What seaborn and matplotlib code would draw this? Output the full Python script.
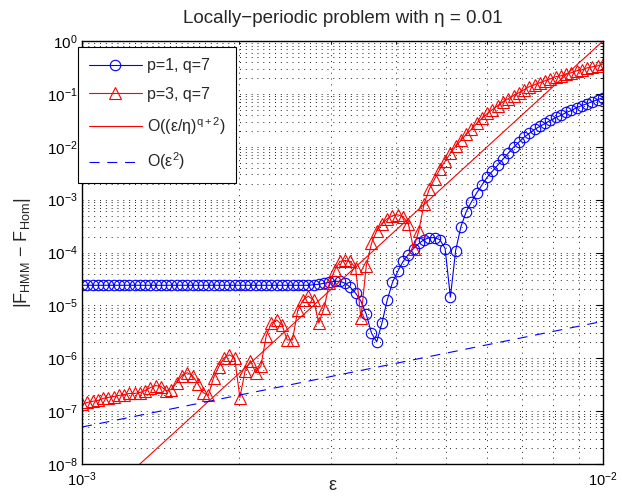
import numpy as np
import pandas as pd
import matplotlib
matplotlib.use("Agg")
import matplotlib.pyplot as plt
import matplotlib.ticker as mticker
import seaborn as sns

# sampling grid of epsilon (100 log-spaced samples between 1e-3 and 1e-2)
eps = np.geomspace(1e-3, 1e-2, 100)

# p=1, q=7 (blue circles)
err_p1 = [2.40e-5] * 43 + [
    2.40e-5, 2.45e-5, 2.51e-5, 2.62e-5, 2.73e-5, 2.85e-5, 2.85e-5,
    2.62e-5, 2.20e-5, 1.70e-5, 1.20e-5, 6.85e-6, 3.01e-6, 2.04e-6,
    4.65e-6, 1.26e-5, 2.73e-5, 4.40e-5, 6.77e-5, 9.16e-5, 1.19e-4,
    1.48e-4, 1.75e-4, 1.91e-4, 1.91e-4, 1.75e-4, 1.19e-4, 1.43e-5,
    1.09e-4, 3.08e-4, 5.89e-4, 9.08e-4, 1.34e-3, 1.89e-3, 2.67e-3,
    3.47e-3, 4.50e-3, 5.82e-3, 7.55e-3, 9.79e-3, 1.22e-2, 1.51e-2,
    1.79e-2, 2.13e-2, 2.43e-2, 2.76e-2, 3.15e-2, 3.58e-2, 3.91e-2,
    4.45e-2, 4.85e-2, 5.52e-2, 6.01e-2, 6.56e-2, 7.15e-2, 7.80e-2,
    8.51e-2]

# p=3, q=7 (red triangles)
err_p3 = [
    1.34e-7, 1.46e-7, 1.53e-7, 1.59e-7, 1.74e-7, 1.81e-7, 1.89e-7,
    1.98e-7, 2.06e-7, 2.16e-7, 2.16e-7, 2.25e-7, 2.45e-7, 2.79e-7,
    3.05e-7, 2.92e-7, 2.45e-7, 2.56e-7, 3.47e-7, 4.69e-7, 5.34e-7,
    4.69e-7, 3.32e-7, 2.25e-7, 1.98e-7, 4.30e-7, 6.92e-7, 1.02e-6,
    1.16e-6, 1.02e-6, 1.81e-7, 5.82e-7, 8.98e-7, 5.34e-7, 7.23e-7,
    2.65e-6, 4.65e-6, 5.29e-6, 4.26e-6, 2.22e-6, 2.22e-6, 8.14e-6,
    1.26e-5, 1.49e-5, 1.26e-5, 4.65e-6, 8.87e-6, 2.62e-5, 4.59e-5,
    6.77e-5, 7.07e-5, 6.77e-5, 5.01e-5, 5.76e-6, 5.46e-5, 1.48e-4,
    2.59e-4, 3.51e-4, 4.35e-4, 4.95e-4, 5.17e-4, 4.74e-4, 3.51e-4,
    1.19e-4, 2.59e-4, 8.32e-4, 1.59e-3, 2.45e-3, 3.78e-3, 5.34e-3,
    7.55e-3, 1.02e-2, 1.32e-2, 1.72e-2, 2.13e-2, 2.76e-2, 3.43e-2,
    4.26e-2, 5.06e-2, 6.01e-2, 7.15e-2, 8.14e-2, 9.27e-2, 1.05e-1,
    1.20e-1, 1.37e-1, 1.49e-1, 1.63e-1, 1.77e-1, 1.93e-1, 2.11e-1,
    2.20e-1, 2.40e-1, 2.51e-1, 2.73e-1, 2.85e-1, 3.11e-1, 3.25e-1,
    3.39e-1, 3.70e-1]

# reference slopes (end points of straight lines in log-log)
ref_eps = [1e-3, 1e-2]
ref_q = [1e-9, 1.0]        # O((eps/eta)^(q+2))
ref_e2 = [5e-8, 5e-6]      # O(eps^2)

labels = ["p=1, q=7", "p=3, q=7", r"O((ε/η)$^{\mathrm{q+2}}$)", r"O(ε$^{2}$)"]

sns.set_style("white")
plt.rcParams["font.family"] = ["Liberation Sans", "DejaVu Sans"]
plt.rcParams["mathtext.fontset"] = "custom"
plt.rcParams["mathtext.rm"] = "Liberation Sans"
plt.rcParams["mathtext.it"] = "Liberation Sans:italic"
plt.rcParams["mathtext.bf"] = "Liberation Sans:bold"
plt.rcParams["mathtext.sf"] = "Liberation Sans"

fig = plt.figure(figsize=(6.22, 4.97), dpi=100)
ax = fig.add_axes([82 / 622, 33 / 497, 521 / 622, 423 / 497])

df1 = pd.DataFrame({"eps": eps, "err": err_p1})
df3 = pd.DataFrame({"eps": eps, "err": err_p3})
dfq = pd.DataFrame({"eps": ref_eps, "err": ref_q})
df2 = pd.DataFrame({"eps": ref_eps, "err": ref_e2})

sns.lineplot(data=df1, x="eps", y="err", ax=ax, color=(0, 0, 1), lw=0.8,
             marker="o", markersize=7.5, markerfacecolor="none",
             markeredgecolor=(0, 0, 1), markeredgewidth=0.8,
             estimator=None, sort=False, label=labels[0])
sns.lineplot(data=df3, x="eps", y="err", ax=ax, color=(1, 0, 0), lw=0.8,
             marker="^", markersize=8, markerfacecolor="none",
             markeredgecolor=(1, 0, 0), markeredgewidth=0.8,
             estimator=None, sort=False, label=labels[1])
sns.lineplot(data=dfq, x="eps", y="err", ax=ax, color=(1, 0, 0), lw=0.8,
             estimator=None, sort=False, label=labels[2])
sns.lineplot(data=df2, x="eps", y="err", ax=ax, color=(0, 0, 1), lw=0.8,
             linestyle=(0, (9, 7)),
             estimator=None, sort=False, label=labels[3])

ax.set_xscale("log")
ax.set_yscale("log")
ax.set_xlim(1e-3, 1e-2)
ax.set_ylim(1e-8, 1e0)

ax.xaxis.set_major_locator(mticker.LogLocator(base=10, numticks=20))
ax.xaxis.set_minor_locator(mticker.LogLocator(base=10, subs=np.arange(2, 10), numticks=100))
ax.yaxis.set_major_locator(mticker.LogLocator(base=10, numticks=20))
ax.yaxis.set_minor_locator(mticker.LogLocator(base=10, subs=np.arange(2, 10), numticks=100))
ax.xaxis.set_minor_formatter(mticker.NullFormatter())
ax.yaxis.set_minor_formatter(mticker.NullFormatter())

ax.grid(True, which="both", linestyle=(0, (1, 5)), linewidth=0.7, color="#222222")
ax.tick_params(which="both", direction="in", top=True, right=True,
               labelsize=11, colors="k")
ax.tick_params(which="major", length=5, width=0.8)
ax.tick_params(which="minor", length=2.5, width=0.6)
ax.tick_params(axis="x", which="major", pad=4.5, labelsize=10.5)
ax.tick_params(axis="y", which="major", pad=3)
for s in ax.spines.values():
    s.set_linewidth(1.0)
    s.set_color("k")
    s.set_visible(True)

ax.set_title("Locally\u2212periodic problem with η = 0.01", fontsize=13.5, pad=13)
ax.set_xlabel("ε", fontsize=13)
ax.xaxis.set_label_coords(0.48, -0.05)
ax.xaxis.label.set_va("center")
ax.set_ylabel(r"|F$_{\mathrm{HMM}}$ − F$_{\mathrm{Hom}}$|", fontsize=13)
ax.yaxis.set_label_coords(-0.095, 0.5)

leg = ax.legend(loc="upper left", bbox_to_anchor=(-0.008, 0.986),
                borderaxespad=0, fancybox=False, framealpha=1,
                edgecolor="k", fontsize=11.5, handlelength=3.3,
                handletextpad=0.3, labelspacing=0.85, borderpad=0.7)
leg.get_frame().set_linewidth(0.8)

fig.savefig("out.png", dpi=100)
